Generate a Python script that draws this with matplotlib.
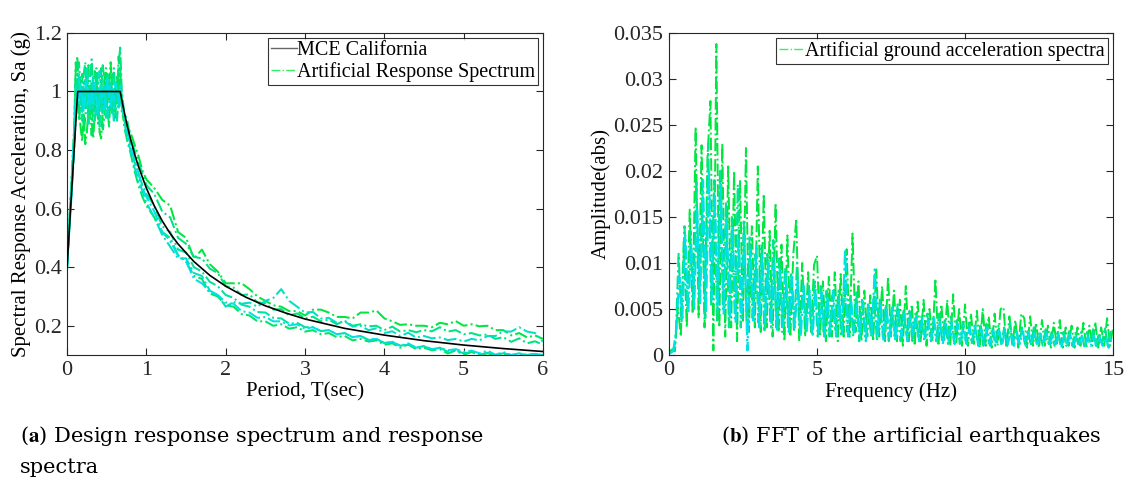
import numpy as np
import matplotlib
matplotlib.use("Agg")
import matplotlib.pyplot as plt

plt.rcParams['font.family'] = ['Liberation Serif', 'DejaVu Serif']
plt.rcParams['mathtext.fontset'] = 'stix'

# ---- design spectrum (MCE California)
T_mce = [0, 0.134, 0.67, 0.7, 0.75, 0.8, 0.85, 0.9, 1.0, 1.1, 1.2, 1.3, 1.4, 1.6,
         1.8, 2.0, 2.25, 2.5, 2.75, 3.0, 3.5, 4.0, 4.5, 5.0, 5.5, 6.0]
Sa_mce = [0.40, 1.0, 1.0, 0.957, 0.893, 0.838, 0.788, 0.744, 0.670, 0.609, 0.558,
          0.515, 0.479, 0.419, 0.372, 0.335, 0.298, 0.268, 0.244, 0.223, 0.191,
          0.168, 0.149, 0.134, 0.122, 0.112]

# ---- periods of the artificial response spectra
T_rise = [0.00, 0.03, 0.06, 0.09]
T_flat = [0.11, 0.13, 0.15, 0.17, 0.19, 0.21, 0.23, 0.25, 0.27, 0.29, 0.31, 0.33,
          0.35, 0.37, 0.39, 0.41, 0.43, 0.45, 0.47, 0.49, 0.51, 0.53, 0.55, 0.57,
          0.59, 0.61, 0.63, 0.65, 0.67, 0.69]
T_drop = [0.72, 0.76, 0.80, 0.85, 0.90, 0.95, 1.00]
T_tail = [1.1, 1.2, 1.3, 1.4, 1.5, 1.6, 1.7, 1.8, 1.9, 2.0, 2.1, 2.2, 2.3, 2.4, 2.5,
          2.6, 2.7, 2.8, 2.9, 3.0, 3.1, 3.2, 3.3, 3.4, 3.5, 3.6, 3.7, 3.8, 3.9, 4.0,
          4.1, 4.2, 4.3, 4.4, 4.5, 4.6, 4.7, 4.8, 4.9, 5.0, 5.1, 5.2, 5.3, 5.4, 5.5,
          5.6, 5.7, 5.8, 5.9, 6.0]
T_art = T_rise + T_flat + T_drop + T_tail

sa1 = ([0.40, 0.54, 0.70, 0.86] +
       [1.08, 1.12, 0.95, 0.88, 0.83, 0.92, 0.82, 0.86, 0.95, 1.02, 0.90, 0.84, 0.93, 1.05, 0.98,
        0.86, 0.84, 0.93, 1.04, 1.08, 0.97, 1.02, 1.10, 0.95, 0.92, 1.03, 0.96, 1.12, 1.06, 0.93] +
       [0.90, 0.88, 0.86, 0.82, 0.78, 0.73, 0.70] +
       [0.67, 0.63, 0.61, 0.52, 0.50, 0.43, 0.46, 0.41, 0.385, 0.345, 0.345, 0.345, 0.325, 0.30,
        0.285, 0.27, 0.265, 0.25, 0.25, 0.235, 0.255, 0.255, 0.245, 0.23, 0.23, 0.225, 0.245,
        0.245, 0.252, 0.225, 0.215, 0.203, 0.205, 0.20, 0.20, 0.195, 0.21, 0.205, 0.216, 0.20,
        0.205, 0.198, 0.20, 0.185, 0.185, 0.167, 0.175, 0.16, 0.167, 0.155])
sa2 = ([0.42, 0.55, 0.68, 0.82] +
       [0.98, 1.05, 1.10, 1.02, 0.94, 1.06, 1.10, 0.99, 0.92, 1.04, 1.11, 1.00, 0.95, 1.08, 1.02,
        0.93, 1.00, 1.09, 1.04, 0.96, 1.06, 1.00, 0.94, 1.05, 1.08, 0.98, 1.02, 1.09, 1.15, 1.00] +
       [0.93, 0.90, 0.84, 0.80, 0.76, 0.72, 0.68] +
       [0.65, 0.59, 0.57, 0.50, 0.48, 0.435, 0.43, 0.395, 0.38, 0.335, 0.33, 0.305, 0.307, 0.28,
        0.277, 0.255, 0.257, 0.235, 0.242, 0.225, 0.231, 0.215, 0.221, 0.205, 0.217, 0.20, 0.205,
        0.198, 0.20, 0.185, 0.197, 0.18, 0.185, 0.178, 0.185, 0.181, 0.195, 0.18, 0.185, 0.171,
        0.175, 0.167, 0.17, 0.155, 0.161, 0.145, 0.157, 0.14, 0.147, 0.135])
sa3 = ([0.39, 0.53, 0.66, 0.80] +
       [0.92, 0.97, 1.02, 0.96, 0.90, 0.99, 1.04, 0.95, 0.89, 0.98, 1.03, 0.94, 0.90, 1.00, 0.96,
        0.88, 0.94, 1.01, 0.97, 0.91, 0.99, 1.04, 0.96, 0.92, 1.00, 0.95, 0.90, 0.98, 1.02, 0.95] +
       [0.92, 0.86, 0.82, 0.76, 0.72, 0.68, 0.65] +
       [0.61, 0.54, 0.52, 0.46, 0.45, 0.40, 0.385, 0.35, 0.335, 0.305, 0.295, 0.272, 0.265, 0.247,
        0.245, 0.227, 0.225, 0.207, 0.21, 0.195, 0.195, 0.182, 0.185, 0.171, 0.175, 0.161, 0.165,
        0.152, 0.155, 0.141, 0.145, 0.132, 0.135, 0.126, 0.13, 0.116, 0.125, 0.111, 0.115, 0.106,
        0.11, 0.101, 0.108, 0.10, 0.106, 0.10, 0.104, 0.10, 0.103, 0.10])
sa4 = ([0.41, 0.56, 0.71, 0.87] +
       [1.02, 0.96, 1.06, 1.00, 0.93, 1.03, 0.97, 1.08, 1.01, 0.94, 0.99, 1.05, 0.98, 0.92, 1.01,
        1.07, 0.99, 0.93, 1.02, 0.97, 0.91, 0.98, 1.03, 0.96, 0.90, 0.97, 1.01, 0.94, 0.99, 0.95] +
       [0.90, 0.84, 0.80, 0.74, 0.70, 0.66, 0.62] +
       [0.57, 0.51, 0.47, 0.43, 0.43, 0.38, 0.37, 0.32, 0.305, 0.265, 0.281, 0.275, 0.279, 0.265,
        0.285, 0.295, 0.325, 0.285, 0.265, 0.245, 0.247, 0.225, 0.227, 0.21, 0.215, 0.197, 0.2,
        0.185, 0.191, 0.175, 0.181, 0.165, 0.176, 0.16, 0.165, 0.157, 0.16, 0.151, 0.155, 0.146,
        0.155, 0.15, 0.165, 0.165, 0.181, 0.18, 0.195, 0.18, 0.175, 0.145])
sa5 = ([0.40, 0.54, 0.69, 0.84] +
       [0.95, 1.00, 0.96, 1.02, 0.98, 0.93, 1.00, 1.04, 0.97, 0.94, 1.01, 0.96, 1.03, 0.99, 0.93,
        0.97, 1.02, 0.96, 0.94, 1.00, 1.05, 0.98, 0.95, 1.01, 0.97, 1.03, 1.00, 0.96, 1.02, 0.97] +
       [0.92, 0.87, 0.82, 0.77, 0.72, 0.67, 0.64] +
       [0.59, 0.52, 0.49, 0.44, 0.42, 0.36, 0.345, 0.315, 0.305, 0.28, 0.275, 0.25, 0.245, 0.227,
        0.23, 0.215, 0.215, 0.201, 0.205, 0.19, 0.195, 0.181, 0.185, 0.171, 0.175, 0.161, 0.165,
        0.151, 0.155, 0.141, 0.145, 0.131, 0.14, 0.125, 0.131, 0.12, 0.125, 0.116, 0.12, 0.111,
        0.115, 0.106, 0.115, 0.101, 0.11, 0.10, 0.106, 0.10, 0.104, 0.10])
sa6 = ([0.43, 0.57, 0.72, 0.88] +
       [1.10, 1.04, 0.90, 0.97, 1.06, 0.86, 0.91, 1.00, 1.09, 0.92, 0.85, 0.96, 1.07, 1.01, 0.89,
        0.95, 1.08, 0.87, 0.91, 1.03, 0.94, 0.88, 1.00, 1.06, 0.97, 0.91, 1.05, 0.99, 1.08, 0.97] +
       [0.88, 0.83, 0.79, 0.73, 0.68, 0.64, 0.61] +
       [0.57, 0.52, 0.50, 0.44, 0.42, 0.37, 0.36, 0.31, 0.30, 0.27, 0.265, 0.24, 0.235, 0.215,
        0.215, 0.20, 0.205, 0.19, 0.195, 0.18, 0.185, 0.171, 0.175, 0.161, 0.165, 0.15, 0.155,
        0.146, 0.15, 0.135, 0.14, 0.125, 0.136, 0.12, 0.125, 0.116, 0.12, 0.105, 0.116, 0.10,
        0.111, 0.10, 0.106, 0.10, 0.104, 0.10, 0.103, 0.10, 0.102, 0.10])
sa_all = [sa1, sa6, sa2, sa3, sa4, sa5]

# ---- FFT amplitudes of three records, on staggered 0.1 Hz bins
amp_green = [0.0003, 0.0006, 0.0004, 0.0052, 0.0020, 0.0125, 0.0030, 0.0158, 0.0045, 0.0248,
             0.0040, 0.0228, 0.0030, 0.0215, 0.0276, 0.0005, 0.0338, 0.0030, 0.0230, 0.0020,
             0.0205, 0.0030, 0.0200, 0.0015, 0.0190, 0.0035, 0.0225, 0.0025, 0.0140, 0.0030,
             0.0205, 0.0025, 0.0175, 0.0030, 0.0135, 0.0020, 0.0165, 0.0025, 0.0120, 0.0015,
             0.0130, 0.0020, 0.0110, 0.0148, 0.0015, 0.0100, 0.0020, 0.0090, 0.0025, 0.0098,
             0.0108, 0.0020, 0.0080, 0.0015, 0.0085, 0.0020, 0.0090, 0.0015, 0.0088, 0.0020,
             0.0115, 0.0020, 0.0132, 0.0025, 0.0080, 0.0015, 0.0070, 0.0020, 0.0065, 0.0015,
             0.0093, 0.0020, 0.0075, 0.0015, 0.0085, 0.0020, 0.0070, 0.0015, 0.0060, 0.0010,
             0.0075, 0.0015, 0.0055, 0.0010, 0.0058, 0.0015, 0.0060, 0.0010, 0.0050, 0.0015,
             0.0083, 0.0010, 0.0055, 0.0015, 0.0060, 0.0010, 0.0066, 0.0012, 0.0050, 0.0010,
             0.0055, 0.0010, 0.0045, 0.0012, 0.0048, 0.0008, 0.0050, 0.0010, 0.0042, 0.0008,
             0.0045, 0.0010, 0.0050, 0.0052, 0.0008, 0.0042, 0.0010, 0.0038, 0.0008, 0.0045,
             0.0040, 0.0008, 0.0042, 0.0010, 0.0035, 0.0008, 0.0038, 0.0010, 0.0032, 0.0008,
             0.0035, 0.0010, 0.0038, 0.0008, 0.0030, 0.0010, 0.0032, 0.0008, 0.0030, 0.0010,
             0.0035, 0.0008, 0.0032, 0.0010, 0.0036, 0.0008, 0.0030, 0.0010, 0.0040, 0.0010,
             0.0030]
amp_teal = [0.0002, 0.0004, 0.0015, 0.0110, 0.0035, 0.0140, 0.0050, 0.0135, 0.0060, 0.0190,
            0.0060, 0.0170, 0.0040, 0.0230, 0.0055, 0.0190, 0.0035, 0.0200, 0.0050, 0.0165,
            0.0030, 0.0150, 0.0040, 0.0185, 0.0030, 0.0145, 0.0035, 0.0130, 0.0040, 0.0110,
            0.0035, 0.0120, 0.0025, 0.0110, 0.0035, 0.0125, 0.0030, 0.0105, 0.0025, 0.0095,
            0.0030, 0.0090, 0.0025, 0.0100, 0.0025, 0.0080, 0.0030, 0.0075, 0.0025, 0.0080,
            0.0020, 0.0075, 0.0025, 0.0070, 0.0020, 0.0065, 0.0025, 0.0070, 0.0020, 0.0075,
            0.0025, 0.0065, 0.0020, 0.0070, 0.0015, 0.0060, 0.0020, 0.0055, 0.0020, 0.0065,
            0.0015, 0.0060, 0.0020, 0.0055, 0.0015, 0.0050, 0.0020, 0.0055, 0.0015, 0.0050,
            0.0020, 0.0048, 0.0015, 0.0045, 0.0020, 0.0042, 0.0015, 0.0045, 0.0020, 0.0040,
            0.0015, 0.0045, 0.0015, 0.0040, 0.0012, 0.0042, 0.0015, 0.0038, 0.0012, 0.0036,
            0.0015, 0.0035, 0.0012, 0.0033, 0.0015, 0.0032, 0.0010, 0.0034, 0.0012, 0.0030,
            0.0010, 0.0032, 0.0012, 0.0030, 0.0010, 0.0035, 0.0012, 0.0028, 0.0010, 0.0030,
            0.0012, 0.0028, 0.0010, 0.0030, 0.0012, 0.0026, 0.0010, 0.0028, 0.0012, 0.0025,
            0.0010, 0.0027, 0.0012, 0.0025, 0.0010, 0.0026, 0.0010, 0.0024, 0.0012, 0.0025,
            0.0010, 0.0025, 0.0012, 0.0028, 0.0010, 0.0024, 0.0012, 0.0030, 0.0010, 0.0026]
amp_cyan = [0.0002, 0.0005, 0.0030, 0.0085, 0.0040, 0.0130, 0.0045, 0.0120, 0.0050, 0.0160,
            0.0055, 0.0190, 0.0045, 0.0200, 0.0060, 0.0175, 0.0050, 0.0185, 0.0045, 0.0150,
            0.0040, 0.0140, 0.0035, 0.0125, 0.0040, 0.0130, 0.0005, 0.0115, 0.0035, 0.0120,
            0.0030, 0.0110, 0.0035, 0.0100, 0.0030, 0.0105, 0.0025, 0.0095, 0.0030, 0.0090,
            0.0025, 0.0085, 0.0030, 0.0080, 0.0020, 0.0075, 0.0025, 0.0070, 0.0020, 0.0072,
            0.0025, 0.0068, 0.0020, 0.0065, 0.0025, 0.0070, 0.0020, 0.0060, 0.0025, 0.0115,
            0.0020, 0.0060, 0.0025, 0.0055, 0.0020, 0.0058, 0.0015, 0.0055, 0.0020, 0.0093,
            0.0020, 0.0055, 0.0015, 0.0050, 0.0020, 0.0052, 0.0015, 0.0048, 0.0020, 0.0045,
            0.0015, 0.0045, 0.0020, 0.0042, 0.0015, 0.0040, 0.0018, 0.0038, 0.0015, 0.0040,
            0.0015, 0.0038, 0.0012, 0.0036, 0.0015, 0.0035, 0.0012, 0.0034, 0.0015, 0.0032,
            0.0012, 0.0030, 0.0015, 0.0032, 0.0010, 0.0028, 0.0012, 0.0030, 0.0010, 0.0028,
            0.0012, 0.0027, 0.0010, 0.0028, 0.0012, 0.0026, 0.0010, 0.0025, 0.0012, 0.0026,
            0.0010, 0.0025, 0.0012, 0.0024, 0.0010, 0.0023, 0.0012, 0.0024, 0.0010, 0.0022,
            0.0010, 0.0022, 0.0008, 0.0021, 0.0010, 0.0022, 0.0008, 0.0020, 0.0010, 0.0021,
            0.0008, 0.0020, 0.0010, 0.0021, 0.0008, 0.0019, 0.0010, 0.0020, 0.0008, 0.0019]
f_green = np.linspace(0, 15, len(amp_green))
f_teal = np.linspace(0.025, 14.925, len(amp_teal))
f_cyan = np.linspace(0.05, 14.95, len(amp_cyan))


def spec_color(k, n):
    t = k / (n - 1)
    return (0.0, 0.90 - 0.02 * t, 0.25 + 0.65 * t)


fig = plt.figure(figsize=(11.27, 4.88), dpi=100)
ax1 = fig.add_axes([0.0595, 0.2725, 0.4223, 0.66])
ax2 = fig.add_axes([0.5936, 0.2725, 0.3940, 0.66])

# left panel
for k, sa in enumerate(sa_all):
    ax1.plot(T_art, sa, ls='-.', lw=1.45, color=spec_color(k, len(sa_all)))
ax1.plot(T_mce, Sa_mce, color='black', lw=1.2, zorder=5)
h_mce, = ax1.plot([], [], color='black', lw=1.0, alpha=0.6)
h_art, = ax1.plot([], [], color='#33f066', lw=1.0, ls='-.')
ax1.set_xlim(0, 6)
ax1.set_ylim(0.1, 1.2)
ax1.set_xticks([0, 1, 2, 3, 4, 5, 6])
ax1.set_yticks([0.2, 0.4, 0.6, 0.8, 1.0, 1.2])
ax1.set_yticklabels(['0.2', '0.4', '0.6', '0.8', '1', '1.2'])
ax1.set_xlabel('Period, T(sec)', fontsize=15, labelpad=2)
ax1.set_ylabel('Spectral Response Acceleration, Sa (g)', fontsize=15, labelpad=2)
leg1 = ax1.legend([h_mce, h_art], ['MCE California', 'Artificial Response Spectrum'],
                  loc='upper right', fontsize=14.5, frameon=True, fancybox=False,
                  handlelength=1.3, handletextpad=0.0, borderpad=0.15, labelspacing=0.1,
                  borderaxespad=0.25)
leg1.get_frame().set_edgecolor('black')
leg1.get_frame().set_linewidth(0.8)

# right panel
ax2.plot(f_green, amp_green, ls='-.', lw=1.4, color=spec_color(0, 3))
ax2.plot(f_teal, amp_teal, ls='-.', lw=1.5, color=spec_color(1, 3))
ax2.plot(f_cyan, amp_cyan, ls='-.', lw=1.6, color=spec_color(2, 3))
h_fft, = ax2.plot([], [], color='#33f066', lw=1.0, ls='-.')
ax2.set_xlim(0, 15)
ax2.set_ylim(0, 0.035)
ax2.set_xticks([0, 5, 10, 15])
ax2.set_yticks([0, 0.005, 0.01, 0.015, 0.02, 0.025, 0.03, 0.035])
ax2.set_yticklabels(['0', '0.005', '0.01', '0.015', '0.02', '0.025', '0.03', '0.035'])
ax2.set_xlabel('Frequency (Hz)', fontsize=15, labelpad=2)
ax2.set_ylabel('Amplitude(abs)', fontsize=15, labelpad=2)
leg2 = ax2.legend([h_fft], ['Artificial ground acceleration spectra'], loc='upper right',
                  fontsize=14.5, frameon=True, fancybox=False, handlelength=1.3,
                  handletextpad=0.0, borderpad=0.15, borderaxespad=0.25)
leg2.get_frame().set_edgecolor('black')
leg2.get_frame().set_linewidth(0.8)

for ax in (ax1, ax2):
    ax.tick_params(direction='in', top=True, right=True, labelsize=16, length=5,
                   width=0.8, colors='#262626', pad=4)
    for s in ax.spines.values():
        s.set_linewidth(0.8)
        s.set_color('#262626')

cap = dict(fontsize=15, family=['DejaVu Serif'])
fig.text(0.018, 0.095, r'($\mathbf{a}$) Design response spectrum and response', **cap)
fig.text(0.018, 0.03, 'spectra', **cap)
fig.text(0.640, 0.095, r'($\mathbf{b}$) FFT of the artificial earthquakes', **cap)

fig.savefig('out.png', dpi=100)
